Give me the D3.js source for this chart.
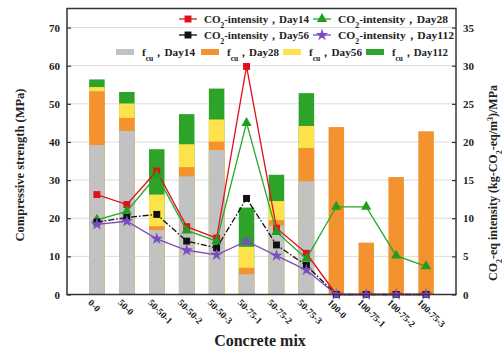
<!DOCTYPE html>
<html><head><meta charset="utf-8">
<script src="https://cdn.jsdelivr.net/npm/d3@7"></script>
<style>
body{margin:0;background:#fff}
svg{display:block}
text{font-family:"Liberation Serif","Times New Roman",serif;font-weight:bold;fill:#222}
</style>
</head><body>
<svg id="chart" width="502" height="351"></svg>
<script>
// Concrete mixes along the x axis
const mixes = ["0-0","50-0","50-50-1","50-50-2","50-50-3","50-75-1","50-75-2","50-75-3","100-0","100-75-1","100-75-2","100-75-3"];

// Compressive strength f_cu (MPa) at each curing age
const fcuDay14  = [39.2,42.9,16.9,31.0,37.9, 5.3,18.1,29.7, 0.0, 0.0, 0.0, 0.0];
const fcuDay28  = [53.3,46.3,17.9,33.4,40.1, 7.0,19.5,38.4,43.9,13.6,30.8,42.8];
const fcuDay56  = [54.4,50.1,26.2,39.4,45.9,12.5,24.5,44.2, 0.0, 0.0, 0.0, 0.0];
const fcuDay112 = [56.4,53.1,38.1,47.3,54.0,22.8,31.4,52.8, 0.0, 0.0, 0.0, 0.0];

// CO2-eq intensity (kg-CO2-eq/m3)/MPa at each curing age
const co2Day14  = [13.1,11.8,16.2, 8.9, 7.4,29.9, 8.7, 5.4, 0.0, 0.0, 0.0, 0.0];
const co2Day28  = [ 9.8,10.9,15.6, 8.4, 7.0,22.5, 8.2, 4.7,11.5,11.5, 5.1, 3.7];
const co2Day56  = [ 9.5,10.1,10.5, 7.0, 6.1,12.6, 6.5, 3.8, 0.0, 0.0, 0.0, 0.0];
const co2Day112 = [ 9.2, 9.6, 7.3, 5.8, 5.2, 7.0, 5.1, 3.2, 0.0, 0.0, 0.0, 0.0];

const leftTicks  = [0,10,20,30,40,50,60,70];
const rightTicks = [0,5,10,15,20,25,30,35];

const svg = d3.select("#chart");
const L = 67, R = 456, T = 8.5, B = 294.5;

const x  = d3.scaleLinear().domain([0, mixes.length + 1]).range([L, R]);
const y  = d3.scaleLinear().domain([0, 75]).range([B, T]);
const yR = d3.scaleLinear().domain([0, 37.5]).range([B, T]);
const barW = 15.5;

// horizontal grid
svg.append("g").selectAll("line").data(leftTicks.slice(1)).join("line")
  .attr("x1", L).attr("x2", R).attr("y1", d => y(d)).attr("y2", d => y(d))
  .attr("stroke", "#dcdcdc").attr("stroke-width", 1);

// strength bars: latest age at the back, earliest in front
const barSeries = [
  {vals: fcuDay112, color: "#2ea32a"},
  {vals: fcuDay56,  color: "#fde24b"},
  {vals: fcuDay28,  color: "#f3922f"},
  {vals: fcuDay14,  color: "#c2c2c2"}
];
barSeries.forEach(s => {
  svg.append("g").selectAll("rect").data(s.vals).join("rect")
    .attr("x", (d, i) => x(i + 1) - barW / 2)
    .attr("width", barW)
    .attr("y", d => y(d))
    .attr("height", d => B - y(d))
    .attr("fill", s.color);
});

// marker shapes
const sym = {
  square: d3.symbol().type(d3.symbolSquare).size(48),
  triangle: d3.symbol().type(d3.symbolTriangle).size(46),
  star: d3.symbol().type(d3.symbolStar).size(46)
};

const lineSeries = [
  {vals: co2Day14,  color: "#e0101c", fill: "#e0101c", marker: "square",   dash: null},
  {vals: co2Day28,  color: "#27a827", fill: "#1f9e1f", marker: "triangle", dash: null},
  {vals: co2Day56,  color: "#111",    fill: "#111",    marker: "square",   dash: "6,2,1.5,2"},
  {vals: co2Day112, color: "#7a4cc0", fill: "#7a4cc0", marker: "star",     dash: null}
];
const line = d3.line().x((d, i) => x(i + 1)).y(d => yR(d));
lineSeries.forEach(s => {
  svg.append("path").datum(s.vals).attr("d", line)
    .attr("fill", "none").attr("stroke", s.color).attr("stroke-width", 1.3)
    .attr("stroke-dasharray", s.dash);
  svg.append("g").selectAll("path").data(s.vals).join("path")
    .attr("d", sym[s.marker])
    .attr("transform", (d, i) => `translate(${x(i + 1)},${yR(d)})`)
    .attr("fill", s.fill);
});

// frame
svg.append("rect").attr("x", L).attr("y", T).attr("width", R - L).attr("height", B - T)
  .attr("fill", "none").attr("stroke", "#333").attr("stroke-width", 1.5);

// axes with inward ticks
const axL = svg.append("g").attr("transform", `translate(${L},0)`)
  .call(d3.axisLeft(y).tickValues(leftTicks).tickSizeInner(-4).tickSizeOuter(0).tickPadding(7));
const axR = svg.append("g").attr("transform", `translate(${R},0)`)
  .call(d3.axisRight(yR).tickValues(rightTicks).tickSizeInner(-4).tickSizeOuter(0).tickPadding(7));
[axL, axR].forEach(a => {
  a.select(".domain").remove();
  a.selectAll("line").attr("stroke", "#333").attr("stroke-width", 1.2);
  a.selectAll("text").attr("font-size", 11).attr("fill", "#222")
    .attr("font-family", "'Liberation Serif',serif").attr("font-weight", "bold");
});

// category labels
svg.append("g").selectAll("text").data(mixes).join("text")
  .attr("transform", (d, i) => `translate(${x(i + 1) - 7},${301}) rotate(45)`)
  .attr("font-size", 9.5).attr("dy", "0.35em")
  .text(d => d);

// axis titles
svg.append("text").attr("x", 260).attr("y", 346).attr("text-anchor", "middle")
  .attr("font-size", 16).text("Concrete mix");
svg.append("text").attr("transform", "translate(24,165) rotate(-90)")
  .attr("text-anchor", "middle").attr("font-size", 12.5).text("Compressive strength (MPa)");
const rt = svg.append("text").attr("transform", "translate(497,183) rotate(-90)")
  .attr("text-anchor", "middle").attr("font-size", 12);
rt.append("tspan").text("CO");
rt.append("tspan").attr("baseline-shift", "sub").attr("font-size", 8).text("2");
rt.append("tspan").text("-eq intensity (kg-CO");
rt.append("tspan").attr("baseline-shift", "sub").attr("font-size", 8).text("2");
rt.append("tspan").text("-eq/m");
rt.append("tspan").attr("baseline-shift", "super").attr("font-size", 8).text("3");
rt.append("tspan").text(")/MPa");

// legend: intensity lines
const lineLegend = [
  {s: lineSeries[0], day: "Day14",  x: 179, y: 19, w: 105},
  {s: lineSeries[1], day: "Day28",  x: 313, y: 19, w: 110},
  {s: lineSeries[2], day: "Day56",  x: 179, y: 35, w: 105},
  {s: lineSeries[3], day: "Day112", x: 313, y: 35, w: 116}
];
lineLegend.forEach(e => {
  svg.append("line").attr("x1", e.x).attr("x2", e.x + 18).attr("y1", e.y).attr("y2", e.y)
    .attr("stroke", e.s.color).attr("stroke-width", 1.3);
  svg.append("path").attr("d", sym[e.s.marker]).attr("fill", e.s.fill)
    .attr("transform", `translate(${e.x + 9},${e.y})`);
  const t = svg.append("text").attr("x", e.x + 25).attr("y", e.y + 4).attr("font-size", 11)
    .attr("textLength", e.w).attr("lengthAdjust", "spacingAndGlyphs");
  t.append("tspan").text("CO");
  t.append("tspan").attr("baseline-shift", "sub").attr("font-size", 7.5).text("2");
  t.append("tspan").text("-intensity，" + e.day);
});

// legend: strength bars
const barLegend = [
  {color: "#c2c2c2", day: "Day14",  x: 116, w: 53},
  {color: "#f3922f", day: "Day28",  x: 201, w: 52},
  {color: "#fde24b", day: "Day56",  x: 283, w: 53},
  {color: "#2ea32a", day: "Day112", x: 366, w: 56}
];
barLegend.forEach(e => {
  svg.append("rect").attr("x", e.x).attr("y", 49).attr("width", 18).attr("height", 6).attr("fill", e.color);
  const t = svg.append("text").attr("x", e.x + 26).attr("y", 56).attr("font-size", 11)
    .attr("textLength", e.w).attr("lengthAdjust", "spacingAndGlyphs");
  t.append("tspan").text("f");
  t.append("tspan").attr("baseline-shift", "sub").attr("font-size", 7.5).text("cu");
  t.append("tspan").text("，" + e.day);
});
</script>
</body></html>
